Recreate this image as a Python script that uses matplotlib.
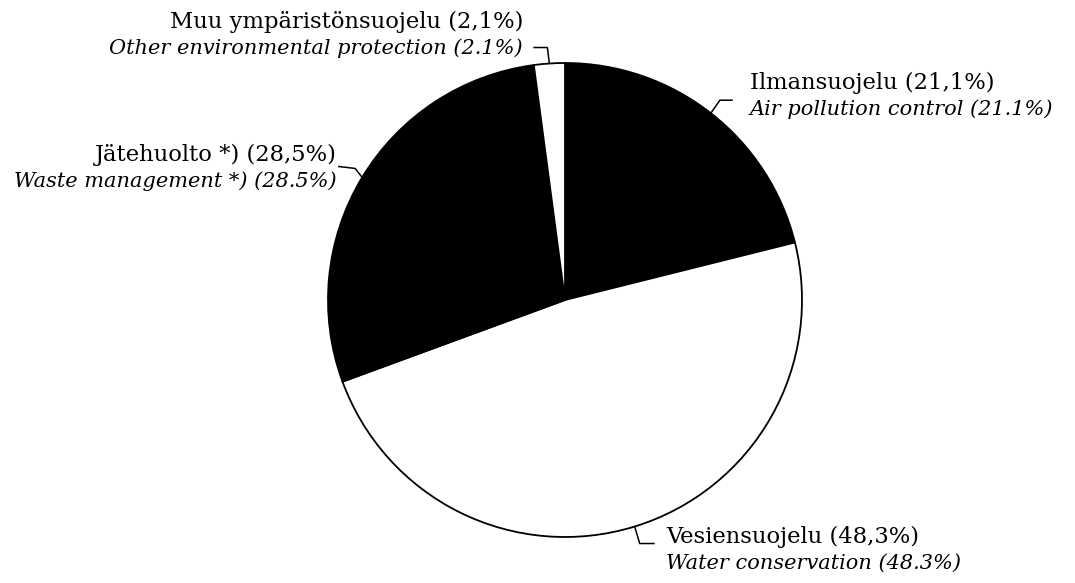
import numpy as np
import matplotlib
matplotlib.use('Agg')
from matplotlib import pyplot as plt

# osuudet ympäristönsuojelun menoista
labels_fi = ['Ilmansuojelu (21,1%)', 'Vesiensuojelu (48,3%)',
             'Jätehuolto *) (28,5%)', 'Muu ympäristönsuojelu (2,1%)']
labels_en = ['Air pollution control (21.1%)', 'Water conservation (48.3%)',
             'Waste management *) (28.5%)', 'Other environmental protection (2.1%)']
shares = [21.1, 48.3, 28.5, 2.1]
colors = ['black', 'white', 'black', 'white']

W, H = 1075, 583
fig = plt.figure(figsize=(W / 100, H / 100), dpi=100)
ax = fig.add_axes([0, 0, 1, 1])

cx, cy, r = 565, H - 300, 237
wedges, _ = ax.pie(shares, colors=colors, startangle=90, counterclock=False,
                   center=(cx, cy), radius=r,
                   wedgeprops=dict(edgecolor='black', linewidth=1.3))
ax.set_xlim(0, W)
ax.set_ylim(0, H)
ax.axis('off')

# label layout: text anchor (x, y of first baseline), alignment, leader elbows (offsets in px)
layout = [
    (750, 89, 'left', [(9, 13), (22, 13)]),
    (666, 543, 'left', [(5, -17), (20, -17)]),
    (337, 161, 'right', [(-7, 9), (-24, 11)]),
    (523, 28, 'right', [(-2, 16), (-16, 16)]),
]
line_gap = 26

for w, fi, en, (tx, ty, ha, elbows) in zip(wedges, labels_fi, labels_en, layout):
    mid = np.deg2rad((w.theta1 + w.theta2) / 2)
    ax0 = cx + r * np.cos(mid)
    ay0 = cy + r * np.sin(mid)
    xs = [ax0] + [ax0 + dx for dx, dy in elbows]
    ys = [ay0] + [ay0 + dy for dx, dy in elbows]
    ax.plot(xs, ys, color='black', linewidth=1.1, solid_capstyle='butt')
    ax.text(tx, H - ty, fi, ha=ha, va='baseline', fontsize=16.3,
            family='DejaVu Serif')
    ax.text(tx, H - ty - line_gap, en, ha=ha, va='baseline', fontsize=15,
            family='DejaVu Serif', style='italic')

plt.savefig('out.png', dpi=100)
